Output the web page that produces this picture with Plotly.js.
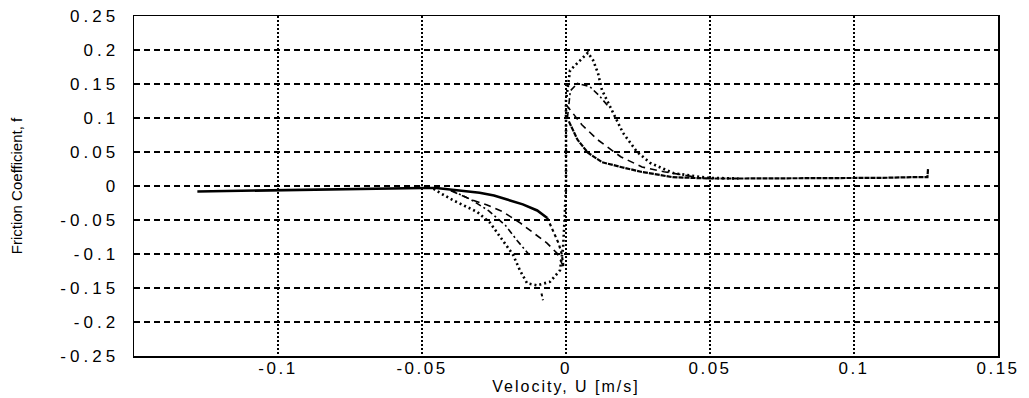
<!DOCTYPE html>
<html>
<head>
<meta charset="utf-8">
<script src="https://cdn.plot.ly/plotly-3.0.1.min.js"></script>
<style>
html,body{margin:0;padding:0;background:#fff;}
#chart{width:1029px;height:398px;}
.xtick text{letter-spacing:2.5px;}
.ytick text{letter-spacing:4px;}
.g-xtitle text{letter-spacing:2px;}
</style>
</head>
<body>
<div id="chart"></div>
<script>
// Solid curve: long tails plus smallest loop
const solidNegU = [-0.128, -0.115, -0.1, -0.085, -0.07, -0.06, -0.05, -0.045, -0.04, -0.035, -0.03, -0.025, -0.02, -0.015, -0.01, -0.008, -0.0065];
const solidNegF = [-0.008, -0.007, -0.006, -0.005, -0.004, -0.0035, -0.003, -0.003, -0.005, -0.007, -0.010, -0.014, -0.020, -0.027, -0.036, -0.042, -0.047];
const solidPosU = [0.001, 0.004, 0.0076, 0.0125, 0.019, 0.026, 0.037, 0.05, 0.06, 0.07, 0.08, 0.09, 0.1, 0.11, 0.12, 0.1255, 0.1257];
const solidPosF = [0.095, 0.068, 0.049, 0.035, 0.028, 0.021, 0.013, 0.011, 0.011, 0.011, 0.011, 0.012, 0.012, 0.012, 0.013, 0.013, 0.025];

// Dense dotted branch descending along zero velocity (smallest loop)
const steepU = [-0.0065, -0.0045, -0.0025, -0.0015, -0.001, -0.0008];
const steepF = [-0.047, -0.065, -0.085, -0.100, -0.112, -0.120];

// Dashed curve: medium loop
const dashNegU = [-0.040, -0.0323, -0.0274, -0.0219, -0.016, -0.0125, -0.0066, -0.0031, -0.0003];
const dashNegF = [-0.007, -0.021, -0.028, -0.038, -0.054, -0.065, -0.084, -0.099, -0.124];
const dashPosU = [0.0, 0.0055, 0.011, 0.019, 0.0264, 0.034, 0.045];
const dashPosF = [0.12, 0.09, 0.068, 0.043, 0.028, 0.021, 0.013];

// Dash-dot curve
const dashDotNegU = [-0.040, -0.033, -0.027, -0.021, -0.017, -0.013];
const dashDotNegF = [-0.006, -0.020, -0.036, -0.058, -0.080, -0.100];
const dashDotPosU = [0.0005, 0.0015, 0.004, 0.0083, 0.0115, 0.0145];
const dashDotPosF = [0.100, 0.140, 0.151, 0.146, 0.133, 0.118];

// Dotted curve: largest loop
const dotU = [-0.046, -0.0438, -0.0392, -0.0309, -0.0264, -0.0229, -0.0184, -0.016, -0.0135, -0.0101, -0.0056, -0.0021, -0.001, -0.0005, 0.0, 0.0, 0.0, 0.0, 0.0014, 0.0059, 0.0076, 0.0094, 0.0111, 0.0125, 0.0142, 0.0163, 0.0198, 0.0247, 0.0292, 0.0372, 0.049, 0.06];
const dotF = [-0.004, -0.010, -0.021, -0.038, -0.054, -0.075, -0.101, -0.124, -0.143, -0.146, -0.141, -0.124, -0.090, -0.050, 0.0, 0.05, 0.09, 0.126, 0.170, 0.188, 0.196, 0.185, 0.166, 0.141, 0.126, 0.107, 0.078, 0.050, 0.034, 0.019, 0.012, 0.011];

// Scattered outlier marks below the largest loop
const outU = [-0.0085, -0.008];
const outF = [-0.158, -0.168];

const xTicks = [-0.1, -0.05, 0, 0.05, 0.1, 0.15];
const xTickText = ['-0.1', '-0.05', '0', '0.05', '0.1', '0.15'];
const yTicks = [-0.25, -0.2, -0.15, -0.1, -0.05, 0, 0.05, 0.1, 0.15, 0.2, 0.25];
const yTickText = ['-0.25', '-0.2', '-0.15', '-0.1', '-0.05', '0', '0.05', '0.1', '0.15', '0.2', '0.25'];

const black = '#000';
const traces = [
  {x: solidNegU, y: solidNegF, mode: 'lines', line: {color: black, width: 2.6}},
  {x: solidPosU, y: solidPosF, mode: 'lines', line: {color: black, width: 2.2, dash: '5px,1px'}},
  {x: steepU, y: steepF, mode: 'lines', line: {color: black, width: 2.2, dash: '3px,3px'}},
  {x: dashNegU, y: dashNegF, mode: 'lines', line: {color: black, width: 1.6, dash: '7px,5px'}},
  {x: dashPosU, y: dashPosF, mode: 'lines', line: {color: black, width: 1.6, dash: '7px,5px'}},
  {x: dashDotNegU, y: dashDotNegF, mode: 'lines', line: {color: black, width: 1.6, dash: '6px,3px,2px,3px'}},
  {x: dashDotPosU, y: dashDotPosF, mode: 'lines', line: {color: black, width: 1.6, dash: '6px,3px,2px,3px'}},
  {x: dotU, y: dotF, mode: 'lines', line: {color: black, width: 2.6, dash: '2px,3px'}},
  {x: outU, y: outF, mode: 'lines', line: {color: black, width: 2, dash: '3px,3px'}}
];

const tickFont = {family: 'Liberation Sans, Arial, sans-serif', size: 17, color: black};
const layout = {
  width: 1029, height: 398,
  margin: {l: 134, r: 31, t: 16, b: 42},
  paper_bgcolor: '#fff', plot_bgcolor: '#fff',
  showlegend: false,
  xaxis: {
    range: [-0.15, 0.15], tickvals: xTicks, ticktext: xTickText,
    showline: true, mirror: true, linecolor: black, linewidth: 1.5,
    showgrid: true, gridcolor: black, gridwidth: 1.2, griddash: '2px,2px',
    zeroline: false, ticks: '', tickfont: tickFont, ticklabelstandoff: -4,
    title: {text: 'Velocity, U [m/s]', font: {family: 'Liberation Sans, Arial, sans-serif', size: 16, color: black}, standoff: 2}
  },
  yaxis: {
    range: [-0.25, 0.25], tickvals: yTicks, ticktext: yTickText,
    showline: true, mirror: true, linecolor: black, linewidth: 1.5,
    showgrid: true, gridcolor: black, gridwidth: 1.2, griddash: '6px,4px',
    zeroline: false, ticks: '', tickfont: tickFont, ticklabelstandoff: 10,
    title: {text: 'Friction Coefficient, f', font: {family: 'Liberation Sans, Arial, sans-serif', size: 15, color: black}, standoff: 34}
  }
};
Plotly.newPlot('chart', traces, layout, {staticPlot: true, displayModeBar: false});
</script>
</body>
</html>
